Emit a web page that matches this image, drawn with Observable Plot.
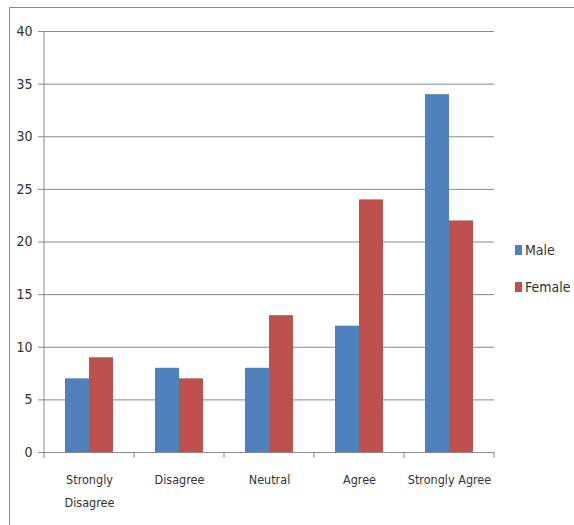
<!DOCTYPE html>
<html>
<head>
<meta charset="utf-8">
<script src="https://cdn.jsdelivr.net/npm/d3@7"></script>
<script src="https://cdn.jsdelivr.net/npm/@observablehq/plot@0.6"></script>
<style>
  html, body { margin: 0; padding: 0; background: #fff; }
  body { width: 574px; height: 525px; overflow: hidden; position: relative;
         font-family: "Liberation Sans Narrow", "DejaVu Sans Condensed", sans-serif; }
  #frame { position: absolute; left: 9px; top: 7px; width: 700px; height: 700px;
           border-left: 1.5px solid #8a8a8a; border-top: 1.5px solid #8a8a8a; }
  #chart { position: absolute; left: 0; top: 0; }
  #legend { position: absolute; left: 515px; top: 240px; font-size: 14px; color: #333; }
  .item { display: flex; align-items: center; height: 20px; margin-bottom: 17px; }
  .sw { width: 7px; height: 10px; margin-right: 3px; }
</style>
</head>
<body>
<div id="frame"></div>
<div id="chart"></div>
<div id="legend"></div>
<script>
// Survey responses by gender
const categories = ["Strongly\nDisagree", "Disagree", "Neutral", "Agree", "Strongly Agree"];
const series = ["Male", "Female"];
const male = [7, 8, 8, 12, 34];
const female = [9, 7, 13, 24, 22];
const colors = ["#4f81bd", "#c0504d"];
const yTicks = [0, 5, 10, 15, 20, 25, 30, 35, 40];

const rows = categories.flatMap((c, i) => [
  {category: c, series: "Male", value: male[i]},
  {category: c, series: "Female", value: female[i]}
]);

const font = '"Liberation Sans Narrow", "DejaVu Sans Condensed", sans-serif';

const plot = Plot.plot({
  width: 574,
  height: 525,
  marginLeft: 42,
  marginRight: 79,
  marginTop: 31,
  marginBottom: 73,
  style: {fontFamily: font, fontSize: "14px", color: "#333", background: "transparent"},
  fx: {domain: categories, padding: 0, label: null},
  x: {domain: series, paddingInner: 0, paddingOuter: 0.81, axis: null},
  y: {domain: [0, 40], label: null},
  color: {domain: series, range: colors},
  marks: [
    Plot.gridY(yTicks, {stroke: "#8a8a8a", strokeOpacity: 1}),
    Plot.barY(rows, {fx: "category", x: "series", y: "value", fill: "series"}),
    Plot.ruleY([0], {stroke: "#8a8a8a"}),
    Plot.axisY(yTicks, {tickSize: 6, tickPadding: 6, stroke: "#8a8a8a", fill: "#333", label: null}),
    Plot.axisFx({anchor: "bottom", tickSize: 0, tickPadding: 16, fontSize: 12.5, lineHeight: 1.8, fill: "#333", label: null})
  ]
});

// Category boundary ticks and the vertical value axis line
const svg = d3.select(plot);
const fx = plot.scale("fx");
const y = plot.scale("y");
const edges = categories.map(c => fx.apply(c)).concat([fx.apply(categories[categories.length - 1]) + fx.bandwidth]);
svg.append("g")
  .attr("stroke", "#8a8a8a")
  .selectAll("line")
  .data(edges)
  .join("line")
  .attr("x1", d => d).attr("x2", d => d)
  .attr("y1", (d, i) => i === 0 ? y.apply(40) : y.apply(0))
  .attr("y2", y.apply(0) + 6);

document.getElementById("chart").appendChild(plot);

// Legend
const legend = d3.select("#legend");
series.forEach((s, i) => {
  const item = legend.append("div").attr("class", "item");
  item.append("div").attr("class", "sw").style("background", colors[i]);
  item.append("span").text(s);
});
</script>
</body>
</html>
